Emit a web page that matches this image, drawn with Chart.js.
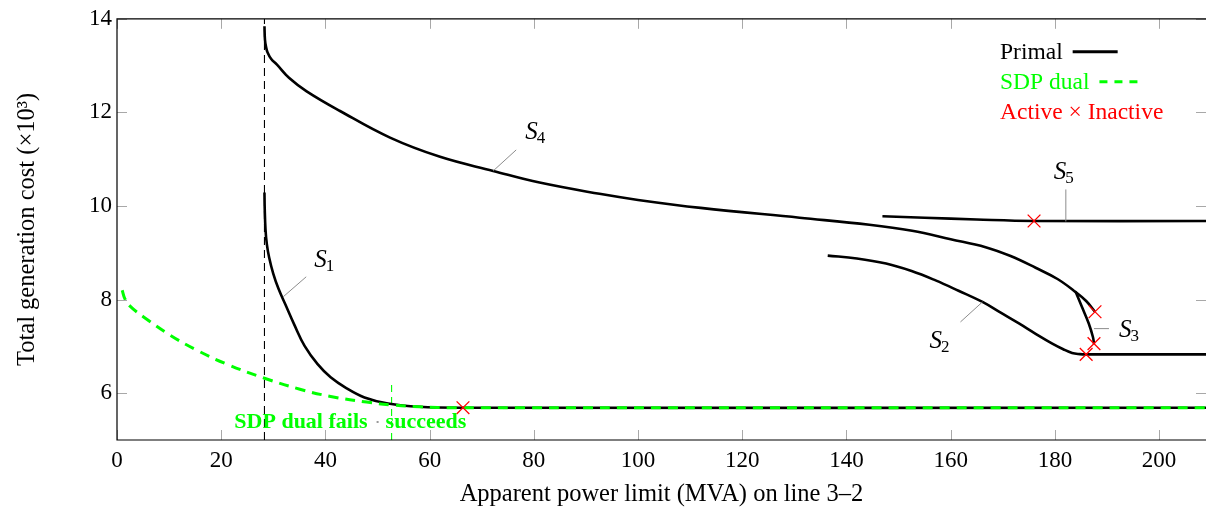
<!DOCTYPE html>
<html>
<head>
<meta charset="utf-8">
<script src="https://cdn.jsdelivr.net/npm/chart.js@4.4.1/dist/chart.umd.min.js"></script>
<style>
  html, body { margin: 0; padding: 0; background: #fff; }
</style>
</head>
<body>
<canvas id="costChart" width="1206" height="510"></canvas>
<script>
// values (x: limit on line 3-2 in MVA, y: cost x10^3)
const xTicks = [0, 20, 40, 60, 80, 100, 120, 140, 160, 180, 200];
const yTicks = [6, 8, 10, 12, 14];

const dualX = [1.0, 1.5, 2.5, 5.1, 10.2, 15.3, 21.1, 28.3, 35.1, 41.0, 47.9, 52.7, 58.0, 65.0, 209];
const dualY = [8.2, 8.02, 7.86, 7.63, 7.24, 6.92, 6.62, 6.32, 6.085, 5.93, 5.81, 5.75, 5.71, 5.69, 5.69];

const s1X = [28.3, 28.35, 28.5, 28.75, 29.2, 30.0, 31.0, 32.3, 34.0, 36.0, 38.5, 41.0, 44.0, 47.5, 52.0, 58.0, 66.4, 209];
const s1Y = [10.29, 9.95, 9.5, 9.19, 8.9, 8.55, 8.23, 7.9, 7.47, 7.01, 6.62, 6.34, 6.11, 5.91, 5.78, 5.71, 5.69, 5.69];

const s2X = [136.4, 142, 147.6, 152.5, 157.1, 161.5, 166.1, 169.6, 173.1, 176.3, 179.5, 181.6, 183.3, 184.8, 185.9, 209];
const s2Y = [8.94, 8.88, 8.77, 8.61, 8.41, 8.19, 7.95, 7.72, 7.49, 7.27, 7.06, 6.94, 6.86, 6.835, 6.83, 6.83];

const s3X = [184.0, 185.2, 186.5, 187.3, 187.5];
const s3Y = [8.16, 7.84, 7.49, 7.20, 7.06];

const s4X = [28.3, 28.4, 28.6, 28.9, 29.6, 30.7, 33.0, 36.4, 42.8, 52.4, 62.0, 72.2, 81.1, 92.6, 100, 112, 131, 144.4, 152.6, 160, 166.7, 171.5, 176.3, 180.5, 184.0, 186.0, 187.7];
const s4Y = [13.84, 13.55, 13.4, 13.28, 13.14, 13.02, 12.74, 12.45, 12.03, 11.46, 11.05, 10.75, 10.50, 10.26, 10.13, 9.96, 9.75, 9.60, 9.47, 9.29, 9.12, 8.93, 8.68, 8.44, 8.16, 7.97, 7.74];

const s5X = [146.9, 155, 165, 176.0, 209];
const s5Y = [9.78, 9.75, 9.71, 9.68, 9.68];

// constraint switches active <-> inactive
const switchX = [66.4, 176.0, 187.7, 187.5, 186.0];
const switchY = [5.69, 9.68, 7.74, 7.06, 6.83];

// limit where the primal becomes feasible / where the dual starts to succeed
const feasibleX = [28.3, 28.3];
const feasibleY = [5, 14];
const dualOkX = [52.7, 52.7];
const dualOkY = [5, 6.2];

const GREEN = '#00ff00';
const RED = '#ff0000';
const SERIF = '"Liberation Serif", "DejaVu Serif", serif';

const pts = (xs, ys) => xs.map((v, i) => ({ x: v, y: ys[i] }));

const curve = (label, xs, ys) => ({
    label: label,
    data: pts(xs, ys),
    showLine: true,
    borderColor: '#000',
    borderWidth: 2.6,
    pointRadius: 0,
    tension: 0.4
});

// S_n labels: anchored on a curve point, leader and text offsets in px
const curveLabels = [
    { n: '1', at: [31.9, 8.06], lead: [23, -20], text: [31, -30] },
    { n: '4', at: [72.2, 10.75], lead: [23, -21], text: [32, -32] },
    { n: '2', at: [166.1, 7.95], lead: [-22, 20], text: [-53, 46] },
    { n: '3', at: [187.5, 7.38], lead: [15, 0], text: [25, 8] },
    { n: '5', at: [182.1, 9.67], lead: [0, -32], text: [-12, -42] }
];

const decorations = {
    id: 'decorations',
    afterDatasetsDraw(chart) {
        const { ctx, chartArea: a, scales: { x, y } } = chart;
        ctx.save();

        // inward tick marks on all four sides
        ctx.strokeStyle = '#a8a8a8';
        ctx.lineWidth = 1;
        ctx.beginPath();
        xTicks.forEach(v => {
            const px = Math.round(x.getPixelForValue(v)) + 0.5;
            ctx.moveTo(px, a.bottom); ctx.lineTo(px, a.bottom - 10);
            ctx.moveTo(px, a.top); ctx.lineTo(px, a.top + 10);
        });
        yTicks.forEach(v => {
            const py = Math.round(y.getPixelForValue(v)) + 0.5;
            ctx.moveTo(a.left, py); ctx.lineTo(a.left + 10, py);
            ctx.moveTo(a.right, py); ctx.lineTo(a.right - 10, py);
        });
        ctx.stroke();

        // frame (right side falls off the picture)
        ctx.strokeStyle = '#000';
        ctx.lineWidth = 1.2;
        ctx.beginPath();
        ctx.moveTo(a.right, a.top);
        ctx.lineTo(a.left, a.top);
        ctx.lineTo(a.left, a.bottom);
        ctx.lineTo(a.right, a.bottom);
        ctx.stroke();

        // S_n labels with grey leaders
        curveLabels.forEach(l => {
            const px = x.getPixelForValue(l.at[0]);
            const py = y.getPixelForValue(l.at[1]);
            ctx.strokeStyle = '#8c8c8c';
            ctx.lineWidth = 1;
            ctx.beginPath();
            ctx.moveTo(px, py);
            ctx.lineTo(px + l.lead[0], py + l.lead[1]);
            ctx.stroke();
            ctx.fillStyle = '#000';
            ctx.textBaseline = 'alphabetic';
            ctx.textAlign = 'left';
            ctx.font = 'italic 25px ' + SERIF;
            const tx = px + l.text[0], ty = py + l.text[1];
            ctx.fillText('S', tx, ty);
            const w = ctx.measureText('S').width;
            ctx.font = '17px ' + SERIF;
            ctx.fillText(l.n, tx + w - 1, ty + 4);
        });

        // fails / succeeds note around the dual threshold
        const gx = x.getPixelForValue(dualOkX[0]);
        const gy = a.bottom - 12;
        ctx.font = 'bold 22px ' + SERIF;
        ctx.fillStyle = GREEN;
        ctx.textAlign = 'right';
        ctx.fillText('SDP dual fails', gx - 24, gy);
        ctx.textAlign = 'left';
        ctx.fillText('succeeds', gx - 6, gy);
        ctx.fillStyle = '#999';
        ctx.fillRect(gx - 15, gy - 7, 2, 2);

        // legend, text first then the line sample
        const lx = a.right - 206;
        ctx.font = '23.5px ' + SERIF;
        ctx.textAlign = 'left';
        const ds = chart.data.datasets;
        const rows = [
            { text: ds[1].label, color: '#000', dash: [] },
            { text: ds[0].label, color: GREEN, dash: [8, 7] },
            { text: ds[2].label, color: RED, dash: null }
        ];
        rows.forEach((r, i) => {
            const by = a.top + 40 + i * 30;
            ctx.fillStyle = r.color;
            ctx.fillText(r.text, lx, by);
            if (r.dash) {
                const sx = lx + ctx.measureText(r.text).width + 10;
                ctx.strokeStyle = r.color;
                ctx.lineWidth = 3;
                ctx.setLineDash(r.dash);
                ctx.beginPath();
                ctx.moveTo(sx, by - 7);
                ctx.lineTo(sx + (r.dash.length ? 38 : 45), by - 7);
                ctx.stroke();
                ctx.setLineDash([]);
            }
        });

        ctx.restore();
    }
};

const ctx = document.getElementById('costChart').getContext('2d');
new Chart(ctx, {
    type: 'scatter',
    data: {
        datasets: [
            {
                label: 'SDP dual',
                data: pts(dualX, dualY),
                showLine: true,
                borderColor: GREEN,
                borderWidth: 3,
                borderDash: [10, 7],
                pointRadius: 0,
                tension: 0.4
            },
            curve('Primal', s1X, s1Y),
            {
                label: 'Active \u00d7 Inactive',
                data: pts(switchX, switchY),
                pointStyle: 'crossRot',
                pointRadius: 9,
                borderColor: RED,
                borderWidth: 1.3,
                order: -1
            },
            curve('S2', s2X, s2Y),
            curve('S3', s3X, s3Y),
            curve('S4', s4X, s4Y),
            curve('S5', s5X, s5Y),
            {
                label: 'feasible',
                data: pts(feasibleX, feasibleY),
                showLine: true,
                borderColor: '#000',
                borderWidth: 1.1,
                borderDash: [8, 5],
                pointRadius: 0
            },
            {
                label: 'dual ok',
                data: pts(dualOkX, dualOkY),
                showLine: true,
                borderColor: GREEN,
                borderWidth: 1.1,
                borderDash: [7, 5],
                pointRadius: 0
            }
        ]
    },
    options: {
        responsive: false,
        animation: false,
        layout: { autoPadding: false, padding: { top: 17, right: 0, left: 0, bottom: 0 } },
        plugins: {
            legend: { display: false },
            tooltip: { enabled: false }
        },
        scales: {
            x: {
                type: 'linear',
                min: 0,
                max: 209,
                afterBuildTicks: s => { s.ticks = xTicks.map(v => ({ value: v })); },
                afterFit: s => { s.height = 70; s.paddingRight = 0; s.paddingLeft = 0; },
                grid: { display: false, drawTicks: false },
                border: { display: false },
                ticks: { color: '#000', padding: 7, font: { family: SERIF, size: 23 } },
                title: {
                    display: true,
                    text: 'Apparent power limit (MVA) on line 3\u20132',
                    color: '#000',
                    padding: { top: 0, bottom: 1 },
                    font: { family: SERIF, size: 24.5 }
                }
            },
            y: {
                min: 5,
                max: 14,
                afterBuildTicks: s => { s.ticks = yTicks.map(v => ({ value: v })); },
                afterFit: s => { s.width = 117; },
                grid: { display: false, drawTicks: false },
                border: { display: false },
                ticks: { color: '#000', padding: 5, font: { family: SERIF, size: 23 } },
                title: {
                    display: true,
                    text: 'Total generation cost (\u00d710\u00b3)',
                    color: '#000',
                    padding: { top: 13, bottom: 0 },
                    font: { family: SERIF, size: 24.5 }
                }
            }
        }
    },
    plugins: [decorations]
});
</script>
</body>
</html>
